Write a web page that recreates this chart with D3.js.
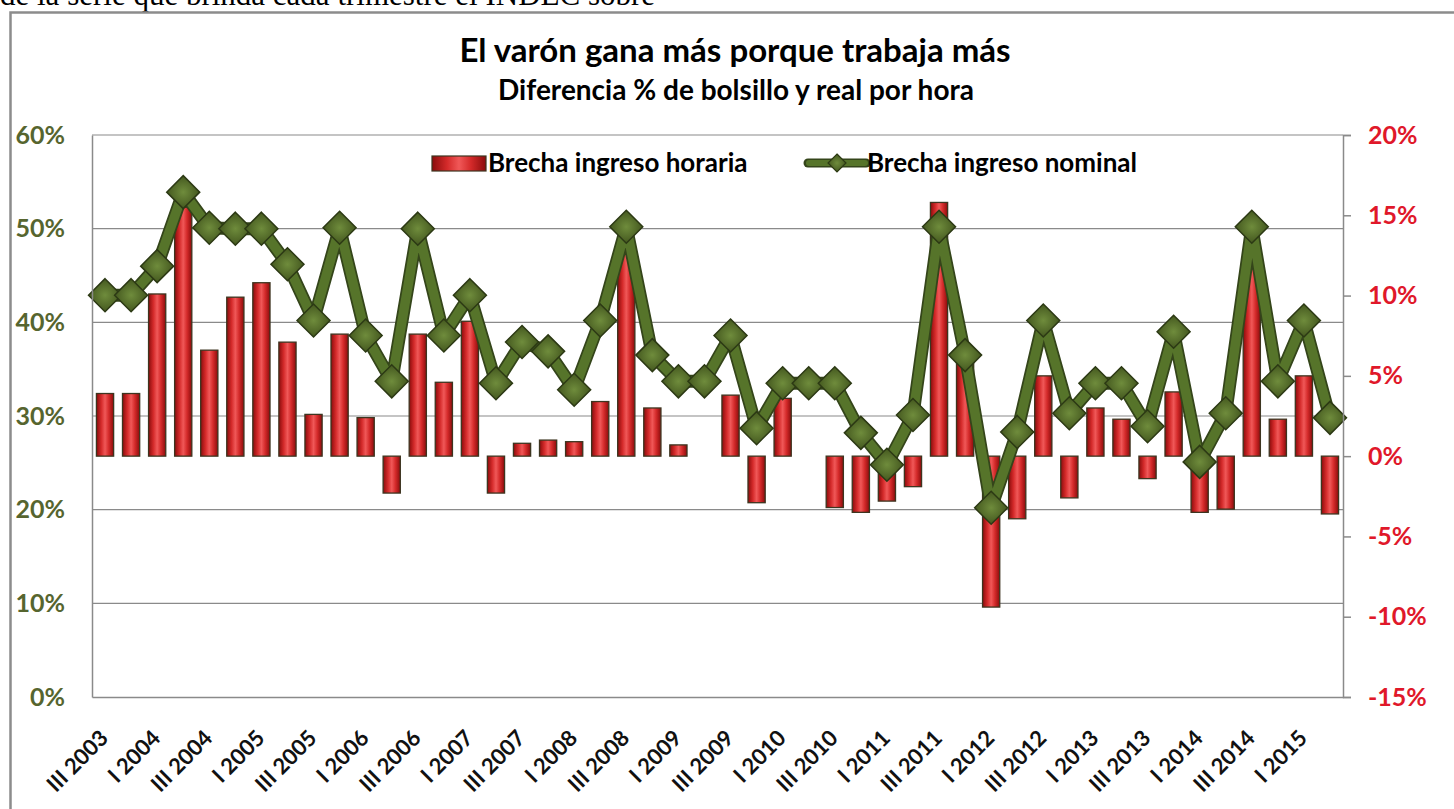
<!DOCTYPE html>
<html>
<head>
<meta charset="utf-8">
<script src="https://cdn.jsdelivr.net/npm/d3@7"></script>
<style>
  body { margin: 0; background: #fff; }
  svg { display: block; }
</style>
</head>
<body>
<div id="chart"></div>
<script>
// datos (trimestres III 2003 - II 2015)
var quarters = ["III 2003","IV 2003","I 2004","II 2004","III 2004","IV 2004","I 2005","II 2005",
  "III 2005","IV 2005","I 2006","II 2006","III 2006","IV 2006","I 2007","II 2007",
  "III 2007","IV 2007","I 2008","II 2008","III 2008","IV 2008","I 2009","II 2009",
  "III 2009","IV 2009","I 2010","II 2010","III 2010","IV 2010","I 2011","II 2011",
  "III 2011","IV 2011","I 2012","II 2012","III 2012","IV 2012","I 2013","II 2013",
  "III 2013","IV 2013","I 2014","II 2014","III 2014","IV 2014","I 2015","II 2015"];

// etiquetas que se ven en el eje (una cada dos trimestres)
var shownLabels = ["III 2003","I 2004","III 2004","I 2005","III 2005","I 2006","III 2006","I 2007",
  "III 2007","I 2008","III 2008","I 2009","III 2009","I 2010","III 2010","I 2011",
  "III 2011","I 2012","III 2012","I 2013","III 2013","I 2014","III 2014","I 2015"];

// Brecha ingreso horaria (eje derecho, %)
var horaria = [3.9, 3.9, 10.1, 15.5, 6.6, 9.9, 10.8, 7.1, 2.6, 7.6, 2.4, -2.3,
  7.6, 4.6, 8.4, -2.3, 0.8, 1.0, 0.9, 3.4, 13.0, 3.0, 0.7, 0,
  3.8, -2.9, 3.6, 0, -3.2, -3.5, -2.8, -1.9, 15.8, 6.3, -9.4, -3.9,
  5.0, -2.6, 3.0, 2.3, -1.4, 4.0, -3.5, -3.3, 12.0, 2.3, 5.0, -3.6];

// Brecha ingreso nominal (eje izquierdo, %)
var nominal = [42.9, 42.9, 46.0, 53.9, 50.1, 50.0, 50.0, 46.2, 40.2, 50.1, 38.6, 33.7,
  50.0, 38.6, 42.9, 33.5, 37.9, 36.9, 32.8, 40.2, 50.2, 36.5, 33.7, 33.7,
  38.6, 28.7, 33.5, 33.5, 33.5, 28.2, 24.8, 30.1, 50.2, 36.5, 20.2, 28.3,
  40.2, 30.3, 33.5, 33.5, 28.9, 39.0, 25.1, 30.3, 50.2, 33.7, 40.2, 29.8];

var leftTicks = [0, 10, 20, 30, 40, 50, 60];
var rightTicks = [-15, -10, -5, 0, 5, 10, 15, 20];

var w = 1454, h = 809;
var plot = { left: 92, right: 1343, top: 135, bottom: 697 };
var font = "Lato, 'Open Sans', sans-serif";

var svg = d3.select("#chart").append("svg")
    .attr("width", w)
    .attr("height", h);

var defs = svg.append("defs");
var gBar = defs.append("linearGradient").attr("id", "barGrad")
    .attr("x1", "0%").attr("x2", "100%").attr("y1", "0%").attr("y2", "0%");
gBar.append("stop").attr("offset", "0%").attr("stop-color", "#8a0c0c");
gBar.append("stop").attr("offset", "28%").attr("stop-color", "#d42a2a");
gBar.append("stop").attr("offset", "50%").attr("stop-color", "#f05858");
gBar.append("stop").attr("offset", "72%").attr("stop-color", "#d42a2a");
gBar.append("stop").attr("offset", "100%").attr("stop-color", "#8a0c0c");

var gDia = defs.append("radialGradient").attr("id", "diaGrad");
gDia.append("stop").attr("offset", "0%").attr("stop-color", "#6f8c3c");
gDia.append("stop").attr("offset", "100%").attr("stop-color", "#44581f");

// texto cortado del documento, arriba
svg.append("text")
    .attr("x", 0).attr("y", 5)
    .attr("font-family", "'Liberation Serif', serif")
    .attr("font-size", 31)
    .text("de la serie que brinda cada trimestre el INDEC sobre");

// marco del grafico
svg.append("rect")
    .attr("x", 10.5).attr("y", 12.5)
    .attr("width", 1470).attr("height", 830)
    .attr("fill", "#fff")
    .attr("stroke", "#8c8c8c")
    .attr("stroke-width", 2.5);

//Escalas
var x = d3.scaleBand()
    .domain(quarters)
    .range([plot.left, plot.right])
    .paddingInner(0.34)
    .paddingOuter(0.17);
var yL = d3.scaleLinear().domain([0, 60]).range([plot.bottom, plot.top]);
var yR = d3.scaleLinear().domain([-15, 20]).range([plot.bottom, plot.top]);

// lineas de grilla (eje izquierdo)
svg.append("g").selectAll("line")
    .data(leftTicks.filter(function (d) { return d > 0; }))
    .enter().append("line")
    .attr("x1", plot.left).attr("x2", plot.right)
    .attr("y1", function (d) { return yL(d); })
    .attr("y2", function (d) { return yL(d); })
    .attr("stroke", "#8a8a8a")
    .attr("stroke-width", 1.2);

// titulos
svg.append("text")
    .attr("x", 735).attr("y", 62)
    .attr("text-anchor", "middle")
    .attr("font-family", font).attr("font-weight", 700)
    .attr("font-size", 33)
    .text("El varón gana más porque trabaja más");
svg.append("text")
    .attr("x", 736).attr("y", 100)
    .attr("text-anchor", "middle")
    .attr("font-family", font).attr("font-weight", 700)
    .attr("font-size", 28)
    .text("Diferencia % de bolsillo y real por hora");

// barras
svg.append("g").selectAll("rect")
    .data(horaria)
    .enter().append("rect")
    .attr("x", function (d, i) { return x(quarters[i]); })
    .attr("width", x.bandwidth())
    .attr("y", function (d) { return yR(Math.max(0, d)); })
    .attr("height", function (d) { return Math.abs(yR(d) - yR(0)); })
    .attr("fill", "url(#barGrad)")
    .attr("stroke", "#3d3520")
    .attr("stroke-width", function (d) { return d === 0 ? 0 : 1.3; });

// linea nominal
var line = d3.line()
    .x(function (d, i) { return x(quarters[i]) + x.bandwidth() / 2; })
    .y(function (d) { return yL(d); });

svg.append("path").datum(nominal)
    .attr("d", line)
    .attr("fill", "none")
    .attr("stroke", "#34451a")
    .attr("stroke-width", 13)
    .attr("stroke-linejoin", "round");
svg.append("path").datum(nominal)
    .attr("d", line)
    .attr("fill", "none")
    .attr("stroke", "#56742a")
    .attr("stroke-width", 9.5)
    .attr("stroke-linejoin", "round");

function diamond(r) {
    return "M0," + (-r) + "L" + r + ",0L0," + r + "L" + (-r) + ",0Z";
}

svg.append("g").selectAll("path")
    .data(nominal)
    .enter().append("path")
    .attr("transform", function (d, i) {
        return "translate(" + (x(quarters[i]) + x.bandwidth() / 2) + "," + yL(d) + ")";
    })
    .attr("d", diamond(16.5))
    .attr("fill", "url(#diaGrad)")
    .attr("stroke", "#2c3914")
    .attr("stroke-width", 1.5);

// ejes
var yAxisL = d3.axisLeft(yL).tickValues(leftTicks)
    .tickFormat(function (d) { return d + "%"; })
    .tickSize(0).tickPadding(27);
var gL = svg.append("g")
    .attr("transform", "translate(" + plot.left + ",0)")
    .call(yAxisL);
gL.select(".domain").attr("stroke", "#8a8a8a").attr("stroke-width", 1.5);
gL.selectAll("text")
    .attr("font-family", font).attr("font-weight", 700)
    .attr("font-size", 25).attr("fill", "#56652f");

var yAxisR = d3.axisRight(yR).tickValues(rightTicks)
    .tickFormat(function (d) { return d + "%"; })
    .tickSize(8).tickPadding(17);
var gR = svg.append("g")
    .attr("transform", "translate(" + plot.right + ",0)")
    .call(yAxisR);
gR.select(".domain").attr("stroke", "#8a8a8a").attr("stroke-width", 1.5);
gR.selectAll(".tick line").attr("stroke", "#8a8a8a").attr("stroke-width", 1.5);
gR.selectAll("text")
    .attr("font-family", font).attr("font-weight", 700)
    .attr("font-size", 25).attr("fill", "#e0182a");

var xAxis = d3.axisBottom(x)
    .tickValues(shownLabels)
    .tickSize(0);
var gX = svg.append("g")
    .attr("transform", "translate(0," + plot.bottom + ")")
    .call(xAxis);
gX.select(".domain").attr("stroke", "#8a8a8a").attr("stroke-width", 1.5);
gX.selectAll("text")
    .attr("font-family", font).attr("font-weight", 700)
    .attr("font-size", 22).attr("fill", "#111")
    .attr("text-anchor", "end")
    .attr("dy", "0.35em")
    .attr("transform", "translate(-3,35) rotate(-45)");

// leyenda
var leg = svg.append("g");
leg.append("rect")
    .attr("x", 432).attr("y", 156)
    .attr("width", 54).attr("height", 15)
    .attr("fill", "url(#barGrad)")
    .attr("stroke", "#3d3520").attr("stroke-width", 1.2);
leg.append("text")
    .attr("x", 488).attr("y", 172)
    .attr("font-family", font).attr("font-weight", 700)
    .attr("font-size", 26)
    .text("Brecha ingreso horaria");
leg.append("line")
    .attr("x1", 808).attr("x2", 866)
    .attr("y1", 163).attr("y2", 163)
    .attr("stroke", "#34451a").attr("stroke-width", 9)
    .attr("stroke-linecap", "round");
leg.append("line")
    .attr("x1", 809).attr("x2", 865)
    .attr("y1", 163).attr("y2", 163)
    .attr("stroke", "#56742a").attr("stroke-width", 6)
    .attr("stroke-linecap", "round");
leg.append("path")
    .attr("transform", "translate(837,163)")
    .attr("d", diamond(9))
    .attr("fill", "url(#diaGrad)")
    .attr("stroke", "#2c3914").attr("stroke-width", 1.2);
leg.append("text")
    .attr("x", 867).attr("y", 172)
    .attr("font-family", font).attr("font-weight", 700)
    .attr("font-size", 26)
    .text("Brecha ingreso nominal");
</script>
</body>
</html>
